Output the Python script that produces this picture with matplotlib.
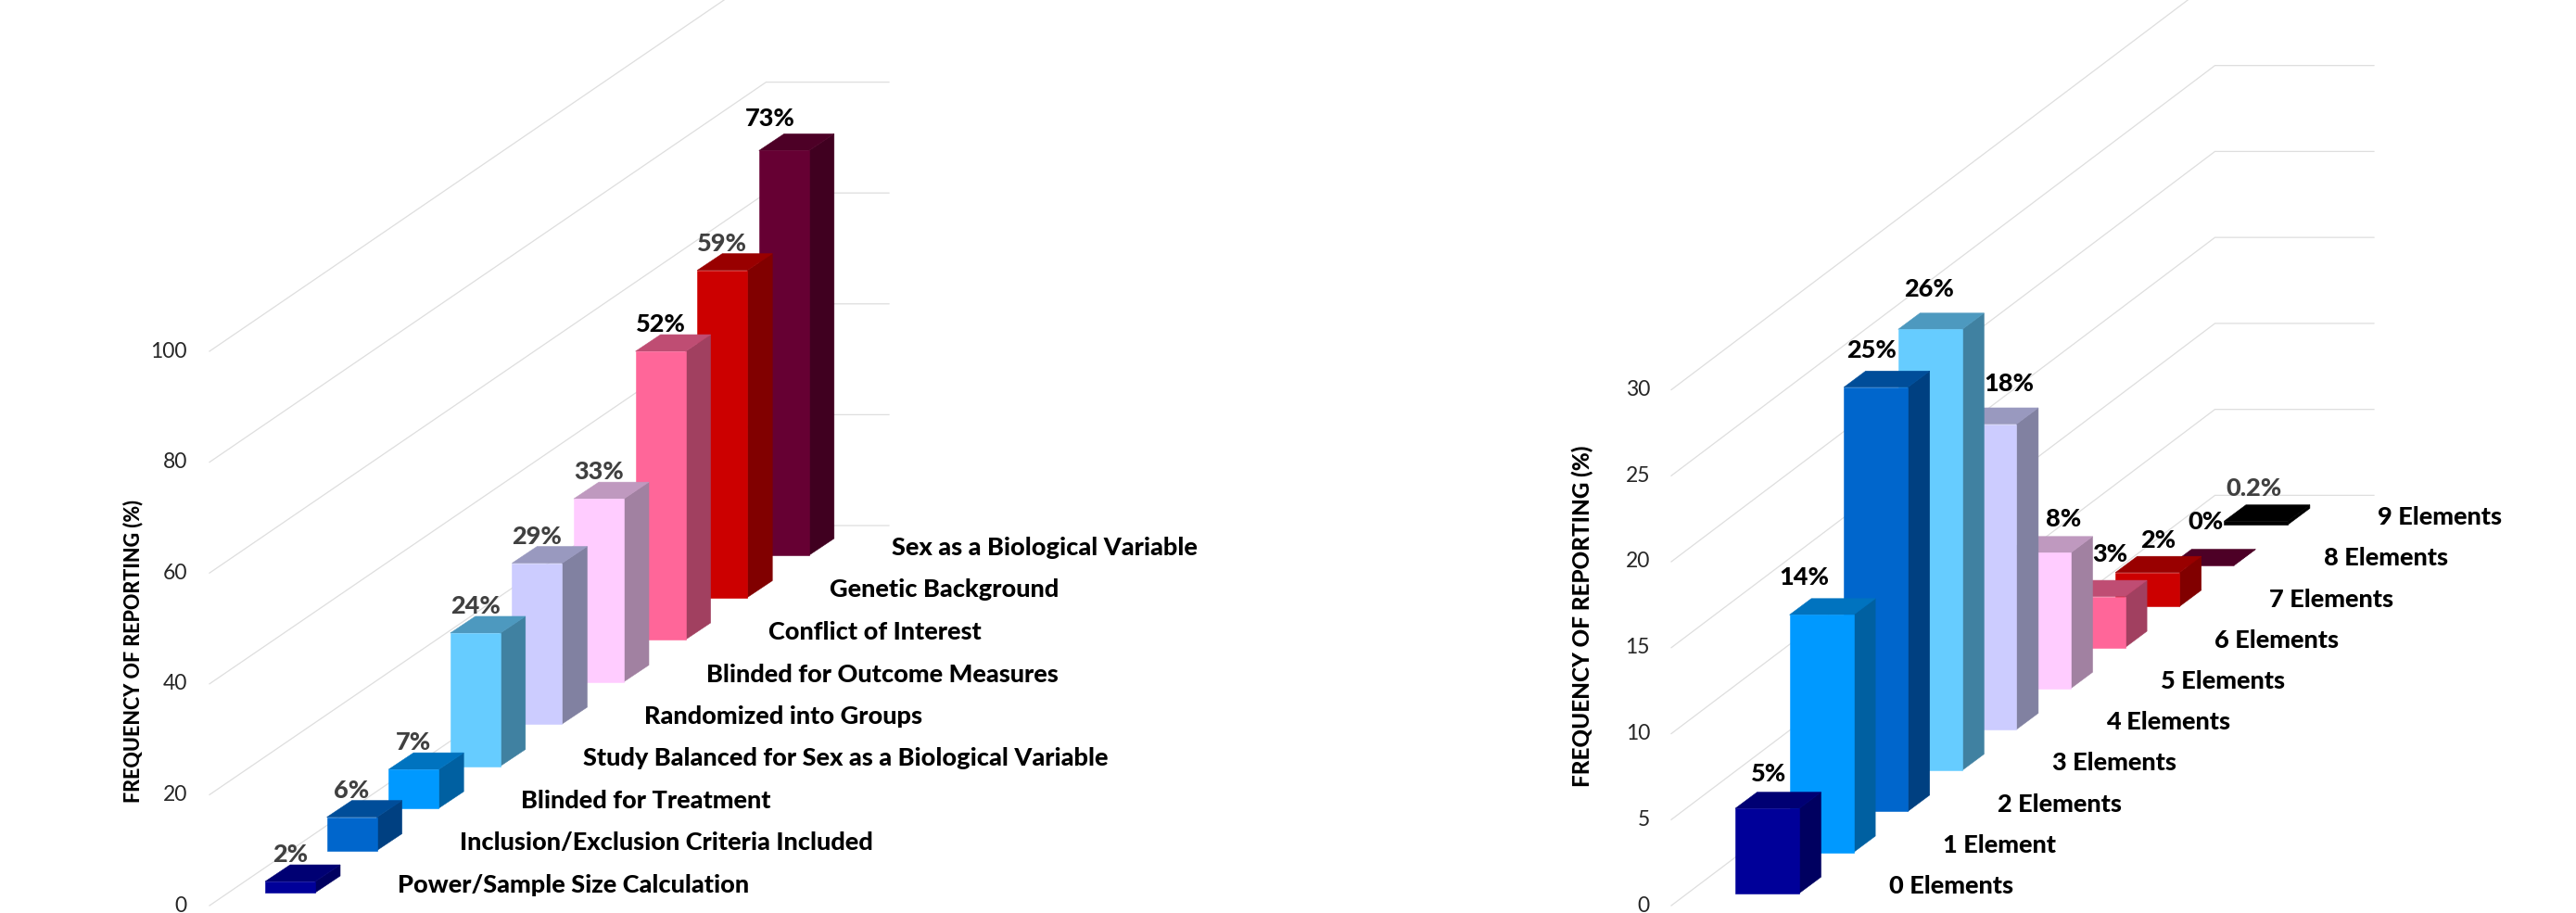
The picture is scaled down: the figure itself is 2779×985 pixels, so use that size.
import matplotlib
matplotlib.use("Agg")
import matplotlib.pyplot as plt
from matplotlib.patches import Polygon
from matplotlib import colors as mcolors

plt.rcParams["font.family"] = ["Lato", "DejaVu Sans"]

# reporting of individual elements
left_labels = ["Power/Sample Size Calculation", "Inclusion/Exclusion Criteria Included",
               "Blinded for Treatment", "Study Balanced for Sex as a Biological Variable",
               "Randomized into Groups", "Blinded for Outcome Measures",
               "Conflict of Interest", "Genetic Background", "Sex as a Biological Variable"]
left_values = [2, 6, 7, 24, 29, 33, 52, 59, 73]
left_text = ["2%", "6%", "7%", "24%", "29%", "33%", "52%", "59%", "73%"]
left_colors = ["#000099", "#0066cc", "#0099ff", "#66ccff", "#ccccff",
               "#ffccff", "#ff6699", "#cc0000", "#660033"]
left_ticks = [0, 20, 40, 60, 80, 100]

# number of elements reported per study
right_labels = ["0 Elements", "1 Element", "2 Elements", "3 Elements", "4 Elements",
                "5 Elements", "6 Elements", "7 Elements", "8 Elements", "9 Elements"]
right_values = [5, 14, 25, 26, 18, 8, 3, 2, 0, 0.2]
right_text = ["5%", "14%", "25%", "26%", "18%", "8%", "3%", "2%", "0%", "0.2%"]
right_colors = ["#000099", "#0099ff", "#0066cc", "#66ccff", "#ccccff",
                "#ffccff", "#ff6699", "#cc0000", "#660033", "#000000"]
right_ticks = [0, 5, 10, 15, 20, 25, 30]

GREY = "#404040"
GRID = "#dedede"


def shade(col, k):
    r, g, b = mcolors.to_rgb(col)
    return (r * k, g * k, b * k)


def draw_chart(ax, labels, values, text, cols, ticks, geo):
    sc = geo["scale"]
    # walls: diagonal from the axis to the back, then flat to the right
    for t in ticks:
        y = geo["grid_y0"] - t * sc
        yb = geo["grid_back_y"] - t * sc
        ax.plot([geo["grid_x0"], geo["grid_back_x"], geo["grid_end"]], [y, yb, yb],
                color=GRID, lw=0.9, solid_joinstyle="miter", zorder=1)
        ax.text(geo["tick_x"], y, str(t), ha="right", va="center",
                fontsize=geo["tick_fs"], color="#262626")

    ax.text(geo["title_x"], geo["title_y"], "FREQUENCY OF REPORTING (%)", rotation=90,
            ha="center", va="center", fontsize=geo["title_fs"], fontweight=900, color="#000000")

    # painter's order, back row first
    n = len(values)
    for i in range(n - 1, -1, -1):
        x = geo["bar_x"] + geo["step_x"] * i
        base = geo["bar_y"] + geo["step_y"] * i
        top = base - values[i] * geo["bar_scale"]
        w, dx, dy = geo["width"], geo["dx"], geo["dy"]
        z = 10 + (n - i)
        c = cols[i]
        front = [(x, base), (x + w, base), (x + w, top), (x, top)]
        side = [(x + w, base), (x + w + dx, base + dy), (x + w + dx, top + dy), (x + w, top)]
        lid = [(x, top), (x + w, top), (x + w + dx, top + dy), (x + dx, top + dy)]
        ax.add_patch(Polygon(side, fc=shade(c, 0.63), ec=shade(c, 0.63), lw=0.4, zorder=z))
        ax.add_patch(Polygon(lid, fc=shade(c, 0.75), ec=shade(c, 0.75), lw=0.4, zorder=z))
        ax.add_patch(Polygon(front, fc=c, ec=c, lw=0.4, zorder=z))

        col = "#000000" if text[i] in geo["black"] else GREY
        off = geo["nudge"].get(text[i], (0, -29))
        ax.text(x + w / 2 + off[0], top + off[1], text[i], ha="center", va="center",
                fontsize=geo["val_fs"], fontweight=900, color=col, zorder=50)

        ax.text(geo["cat_x"] + geo["step_x"] * i, geo["cat_y"] + geo["step_y"] * i, labels[i],
                ha="left", va="center", fontsize=geo["cat_fs"], fontweight=900,
                color="#000000", zorder=50)


fig = plt.figure(figsize=(27.79, 9.85), dpi=100)
ax = fig.add_axes([0, 0, 1, 1])
ax.set_xlim(0, 2779)
ax.set_ylim(985, 0)
ax.axis("off")

left_geo = dict(scale=5.98, bar_scale=5.98, grid_x0=226, grid_y0=977, grid_back_x=826.5, grid_back_y=567,
                grid_end=959, bar_x=286, bar_y=963, step_x=66.6, step_y=-45.5, width=54, dx=27, dy=-18,
                tick_x=202, tick_fs=16.5, title_x=143, title_y=702, title_fs=15.5,
                cat_x=429, cat_y=955, cat_fs=19.5, val_fs=19.5,
                black=["52%", "73%"], nudge={"73%": (-15, -34)})
right_geo = dict(scale=18.55, bar_scale=18.3, grid_x0=1803, grid_y0=977, grid_back_x=2389.5, grid_back_y=534.4,
                 grid_end=2561, bar_x=1872, bar_y=963.7, step_x=58.6, step_y=-44.2, width=69, dx=23.5, dy=-17.5,
                 tick_x=1780, tick_fs=16.5, title_x=1707, title_y=665, title_fs=17.5,
                 cat_x=2037.8, cat_y=956, cat_fs=19.5, val_fs=19.5,
                 black=[t for t in right_text if t != "0.2%"],
                 nudge={"5%": (2, -37), "14%": (-19, -40), "25%": (-5, -40), "26%": (-1, -43),
                        "18%": (26, -43), "8%": (27, -36), "3%": (18, -46), "2%": (11, -35),
                        "0%": (4, -47), "0.2%": (-2, -35)})

draw_chart(ax, left_labels, left_values, left_text, left_colors, left_ticks, left_geo)
draw_chart(ax, right_labels, right_values, right_text, right_colors, right_ticks, right_geo)

fig.savefig("out.png", dpi=100, facecolor="white")
